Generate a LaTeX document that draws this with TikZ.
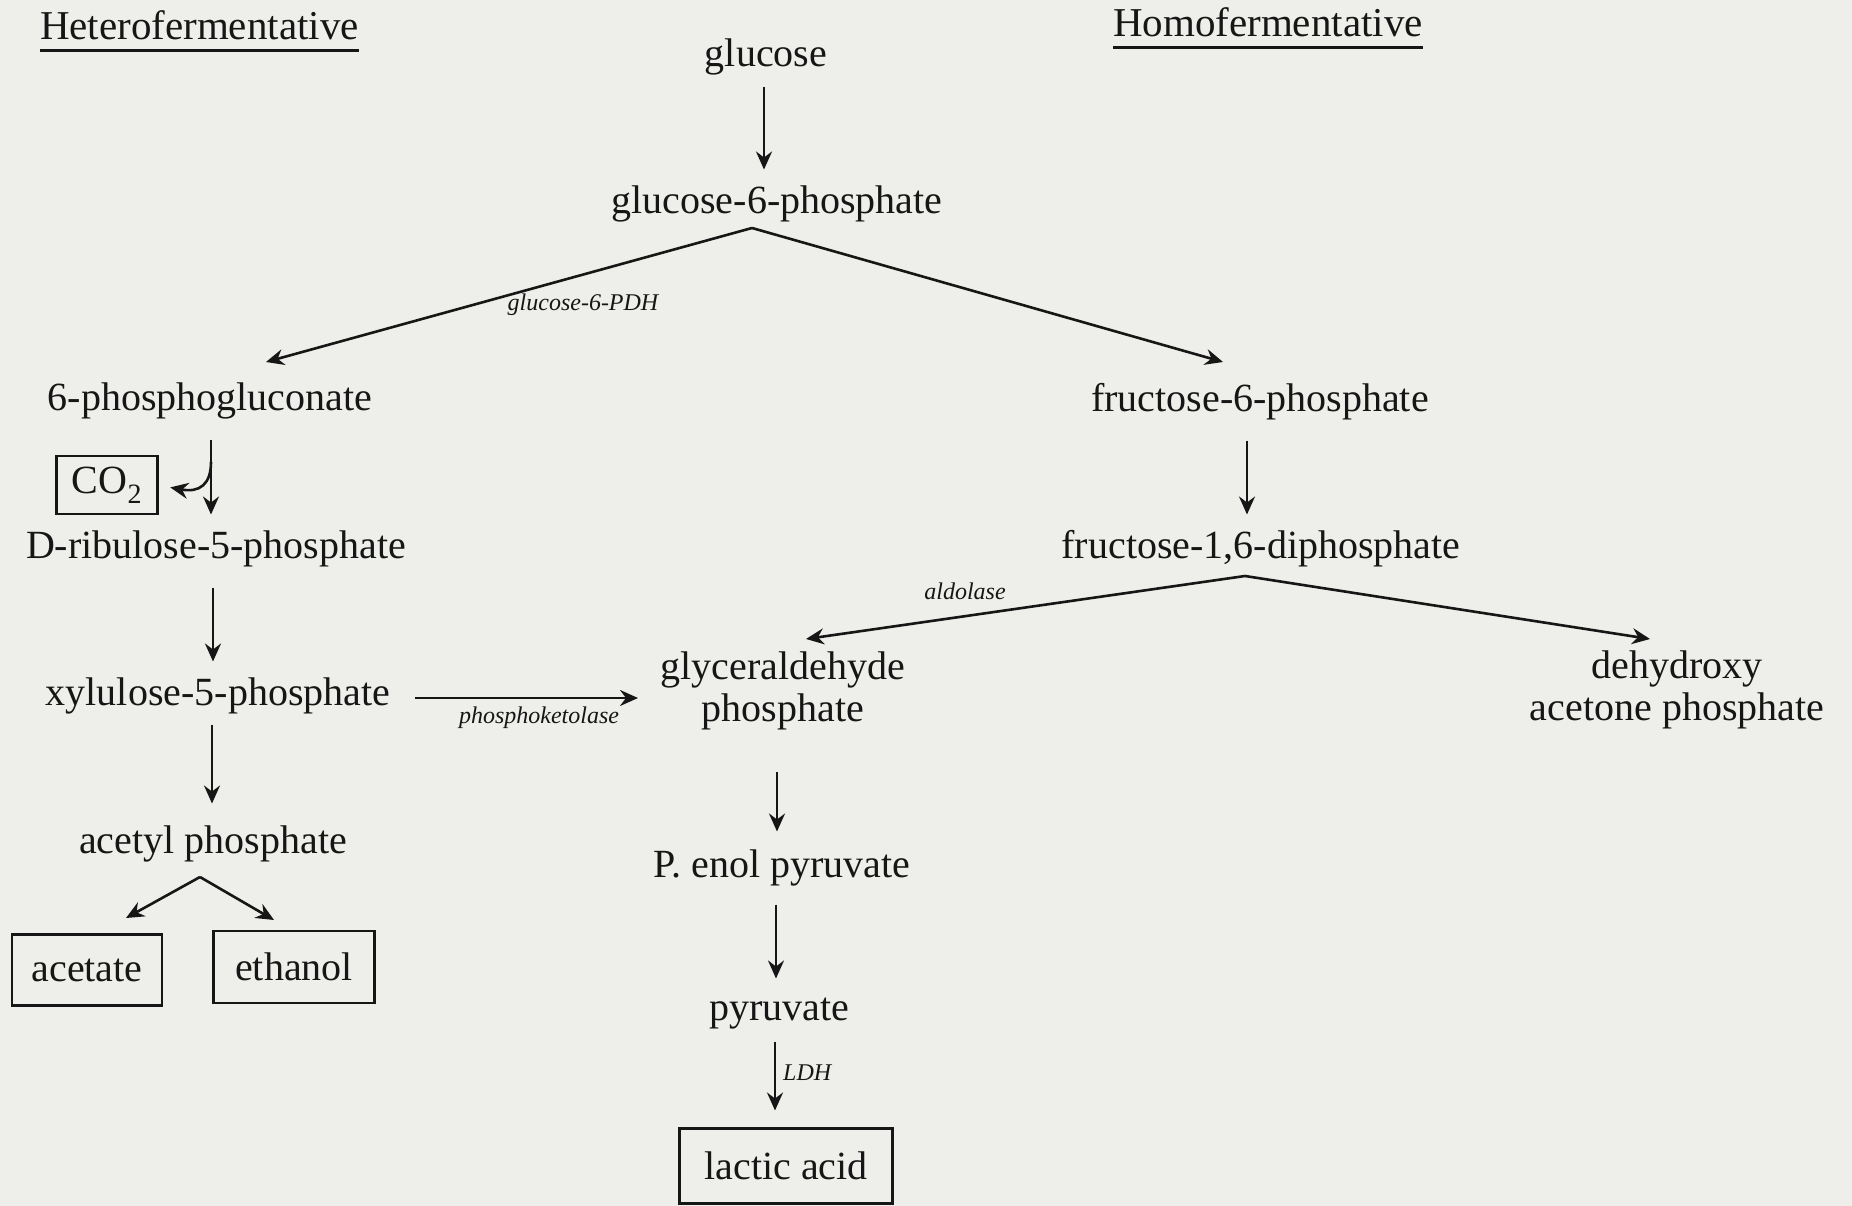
\documentclass[tikz,border=0pt]{standalone}
\usepackage{fontspec}
\setmainfont{Liberation Serif}
\usetikzlibrary{arrows.meta,calc}
\definecolor{paper}{RGB}{238,238,234}
\definecolor{ink}{RGB}{22,22,22}
\tikzset{
  txt/.style={font=\fontsize{40}{42}\selectfont, inner sep=0pt, outer sep=0pt, text height=28pt, text depth=9pt, text=ink},
  txttwo/.style={font=\fontsize{40}{42}\selectfont, inner sep=0pt, outer sep=0pt, align=center, text=ink},
  enz/.style={font=\fontsize{24}{26}\selectfont\itshape, inner sep=0pt, text=ink},
  boxn/.style={draw=ink, line width=2.5pt, font=\fontsize{40}{42}\selectfont, text=ink, inner sep=0pt, outer sep=0pt},
  arr/.style={draw=ink, line width=2.6pt, -{Stealth[length=18pt,width=16pt,inset=6pt]}},
  vgap/.style={shorten <=20pt, shorten >=16pt},
  ul/.style={draw=ink, line width=3pt}
}
\begin{document}
\begin{tikzpicture}[x=1pt,y=-1pt]
\fill[paper] (0,0) rectangle (1852,1206);
\useasboundingbox (0,0) rectangle (1852,1206);

% titles
\node[txt, anchor=west, font=\fontsize{41}{42}\selectfont] (het) at (40,30) {Heterofermentative};
\draw[ul] ([yshift=-2.5pt]het.south west) -- ([yshift=-2.5pt]het.south east);
\node[txt, anchor=west, font=\fontsize{41}{42}\selectfont] (hom) at (1113,27) {Homofermentative};
\draw[ul] ([yshift=-2.5pt]hom.south west) -- ([yshift=-2.5pt]hom.south east);

% nodes
\node[txt] (glc) at (766,57) {glucose};
\node[txt] (g6p) at (777,204) {glucose-6-phosphate};
\node[txt] (pg6) at (210,401) {6-phosphogluconate};
\node[txt] (f6p) at (1260,402) {fructose-6-phosphate};
\node[boxn, minimum width=101pt, minimum height=58pt] (co2) at (107,485) {CO\textsubscript{2}};
\node[txt] (rib) at (216,549) {D-ribulose-5-phosphate};
\node[txt] (xyl) at (218,696) {xylulose-5-phosphate};
\node[txt] (acp) at (213,844) {acetyl phosphate};
\node[boxn, minimum width=150pt, minimum height=71pt] (ace) at (87,970) {acetate};
\node[boxn, minimum width=161pt, minimum height=72pt] (eth) at (294,967) {ethanol};
\node[txt] (f16) at (1261,549) {fructose-1,6-diphosphate};
\node[txttwo] (gap) at (783,691) {glyceraldehyde\\phosphate};
\node[txttwo] (dhap) at (1677,690) {dehydroxy\\acetone phosphate};
\node[txt] (pep) at (782,868) {P. enol pyruvate};
\node[txt] (pyr) at (779,1011) {pyruvate};
\node[boxn, minimum width=213pt, minimum height=75pt] (lac) at (786,1166) {lactic acid};

% enzyme labels
\node[enz] (lg6pdh) at (583,305) {glucose-6-PDH};
\node[enz] (lpk) at (539,718) {phosphoketolase};
\node[enz] (lald) at (965,591) {aldolase};
\node[enz, anchor=west] (lldh) at (783,1073) {LDH};

% branch points and arrow ends
\coordinate (ap1) at (752,228);
\coordinate (t6pg) at (266,362);
\coordinate (tf6p) at (1223,362);
\coordinate (ap2) at (1245,576);
\coordinate (tgap) at (806,639);
\coordinate (tdhap) at (1650,639);
\coordinate (ap3) at (200,877);
\coordinate (tace) at (126,918);
\coordinate (teth) at (274,920);
\coordinate (pk1) at (415,698);
\coordinate (pk2) at (638,698);
\coordinate (cs) at (211,462);

% vertical arrows
\draw[arr, shorten <=12pt, shorten >=16pt] (glc.south -| 764,0) -- (g6p.north -| 764,0);
\draw[arr, vgap] (pg6.south -| 211,0) -- (rib.north -| 211,0);
\draw[arr, vgap] (rib.south -| 213,0) -- (xyl.north -| 213,0);
\draw[arr, shorten <=10pt, shorten >=22pt] (xyl.south -| 212,0) -- (acp.north -| 212,0);
\draw[arr, vgap] (f6p.south -| 1247,0) -- (f16.north -| 1247,0);
\draw[arr, shorten <=42pt, shorten >=18pt] (gap.south -| 777,0) -- (pep.north -| 777,0);
\draw[arr, shorten <=18pt, shorten >=14pt] (pep.south -| 776,0) -- (pyr.north -| 776,0);
\draw[arr, shorten <=12pt, shorten >=18pt] (pyr.south -| 775,0) -- (lac.north -| 775,0);

% CO2 release
\draw[arr, shorten >=13pt] (cs) .. controls (211,484) and (200,493) .. (co2.east);

% diagonal branches
\draw[arr] (ap1) -- (t6pg);
\draw[arr] (ap1) -- (tf6p);
\draw[arr] (ap2) -- (tgap);
\draw[arr] (ap2) -- (tdhap);
\draw[arr] (ap3) -- (tace);
\draw[arr] (ap3) -- (teth);
\draw[arr] (pk1) -- (pk2);
\end{tikzpicture}
\end{document}
